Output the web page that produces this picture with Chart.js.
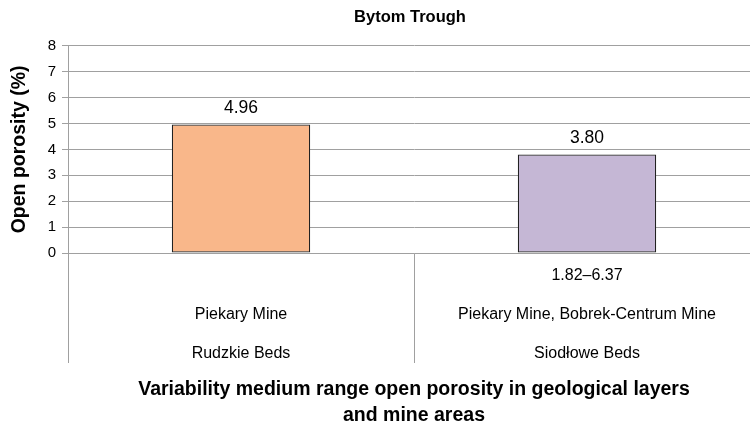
<!DOCTYPE html>
<html>
<head>
<meta charset="utf-8">
<script src="https://cdn.jsdelivr.net/npm/chart.js@4/dist/chart.umd.min.js"></script>
<style>
  body { margin:0; background:#fff; overflow:hidden; }
  #boite { width:750px; height:432px; overflow:hidden; }
</style>
</head>
<body>
<div id="boite"><canvas id="canvas" width="820" height="432"></canvas></div>
<script>
// donnees
var categories = [
  ['', 'Piekary Mine', 'Rudzkie Beds'],
  ['1.82\u20136.37', 'Piekary Mine, Bobrek-Centrum Mine', 'Siod\u0142owe Beds']
];
var porosite = [4.96, 3.80];
var couleurs = ['#f9b78a', '#c5b7d5'];
var ticksY = [0, 1, 2, 3, 4, 5, 6, 7, 8];

var police = 'Liberation Sans, Arial, sans-serif';
var gris = '#a0a0a0';

// ecrit la valeur au dessus de chaque barre
var etiquettes = {
  id: 'etiquettes',
  afterDatasetsDraw: function(chart) {
    var ctx = chart.ctx;
    var meta = chart.getDatasetMeta(0);
    ctx.save();
    ctx.font = '17.5px ' + police;
    ctx.fillStyle = '#000';
    ctx.textAlign = 'center';
    ctx.textBaseline = 'middle';
    meta.data.forEach(function(barre, i) {
      ctx.fillText(porosite[i].toFixed(2), barre.x, barre.y - 16);
    });
    ctx.restore();
  }
};

new Chart(document.getElementById('canvas'), {
  type: 'bar',
  data: {
    labels: categories,
    datasets: [{
      data: porosite,
      backgroundColor: couleurs,
      borderColor: '#222',
      borderWidth: 1.2,
      borderSkipped: false,
      categoryPercentage: 1,
      barPercentage: 0.4
    }]
  },
  options: {
    responsive: false,
    animation: false,
    layout: { padding: 0 },
    plugins: {
      legend: { display: false },
      tooltip: { enabled: false },
      title: {
        display: true,
        text: 'Bytom Trough',
        color: '#000',
        font: { family: police, size: 16.5, weight: 'bold' },
        padding: { top: 8, bottom: 18 }
      }
    },
    scales: {
      x: {
        grid: {
          display: true,
          offset: true,
          drawOnChartArea: false,
          drawTicks: true,
          tickLength: 110,
          color: gris
        },
        border: { display: true, color: gris },
        ticks: {
          color: '#000',
          autoSkip: false,
          maxRotation: 0,
          padding: -107,
          font: { family: police, size: 16, lineHeight: 2.44 }
        },
        title: {
          display: true,
          text: ['Variability medium range open porosity in geological layers', 'and mine areas'],
          color: '#000',
          font: { family: police, size: 19.5, weight: 'bold', lineHeight: 1.35 },
          padding: { top: 0, bottom: 3 }
        },
        afterFit: function(s) { s.height = 179; }
      },
      y: {
        min: 0,
        max: 8,
        afterBuildTicks: function(s) {
          s.ticks = ticksY.map(function(v) { return { value: v }; });
        },
        grid: { color: gris, drawTicks: true, tickLength: 6 },
        border: { display: true, color: gris },
        ticks: {
          color: '#000',
          padding: 6,
          font: { family: police, size: 15 }
        },
        title: {
          display: true,
          text: 'Open porosity (%)',
          color: '#000',
          font: { family: police, size: 19.5, weight: 'bold' },
          padding: { top: 8, bottom: 0 }
        },
        afterFit: function(s) { s.width = 68; }
      },
      // axe vide a droite pour garder la zone du graphique a la bonne largeur
      yDroite: {
        type: 'linear',
        position: 'right',
        display: true,
        grid: { display: false },
        border: { display: false },
        ticks: { display: false },
        afterFit: function(s) { s.width = 60; }
      }
    }
  },
  plugins: [etiquettes]
});
</script>
</body>
</html>
